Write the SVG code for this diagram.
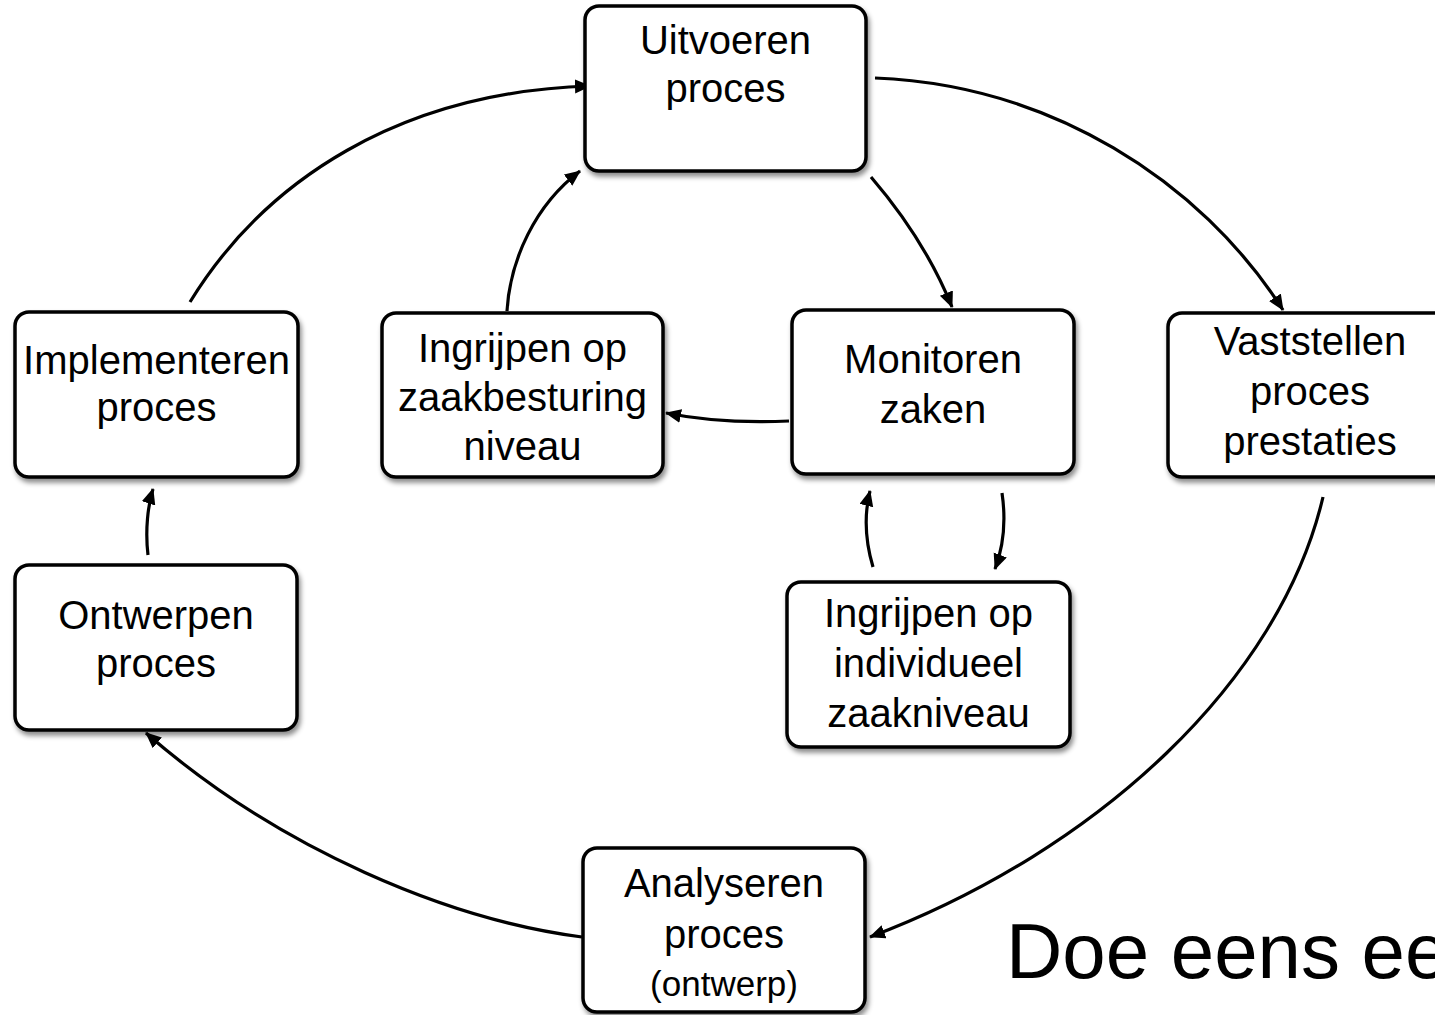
<svg xmlns="http://www.w3.org/2000/svg" width="1435" height="1015" viewBox="0 0 1435 1015">
<style>
.box{fill:#fff;stroke:#000;stroke-width:3.5;filter:url(#sh)}
.t{font-family:"Liberation Sans",Arial,sans-serif;font-size:40px;fill:#000;text-anchor:middle}
.s{font-size:35px}
.big{font-family:"Liberation Sans",Arial,sans-serif;font-size:78px;fill:#000}
.c{fill:none;stroke:#000;stroke-width:3.2;marker-end:url(#ah)}
</style>
<defs>
<filter id="sh" x="-10%" y="-10%" width="130%" height="130%">
<feDropShadow dx="2" dy="4" stdDeviation="2.5" flood-color="#000" flood-opacity="0.45"/>
</filter>
<marker id="ah" markerUnits="userSpaceOnUse" markerWidth="18" markerHeight="16" refX="15" refY="7" orient="auto">
<path d="M0,0 L16,7 L0,14 z" fill="#000"/>
</marker>
</defs>
<rect width="1435" height="1015" fill="#fff"/>
<g id="connectors">
<path class="c" d="M875,78 C1050,85 1200,180 1283,310"/>
<path class="c" d="M1323,497 C1280,680 1100,850 870,937"/>
<path class="c" d="M582,937 C450,920 280,850 146,733"/>
<path class="c" d="M148,555 C145,530 148,505 153,489"/>
<path class="c" d="M190,302 C265,180 400,92 590,86"/>
<path class="c" d="M871,177 Q925,240 952,307"/>
<path class="c" d="M789,421 Q720,424 666,413"/>
<path class="c" d="M507,311 C510,260 535,205 580,171"/>
<path class="c" d="M873,567 C865,540 864,515 870,491"/>
<path class="c" d="M1002,493 C1006,520 1004,545 995,569"/>
</g>
<g id="uitvoeren">
<rect class="box" x="585" y="6" width="281" height="165" rx="14"/>
<text class="t" x="725.5" y="54">Uitvoeren</text>
<text class="t" x="725.5" y="102">proces</text>
</g>
<g id="implementeren">
<rect class="box" x="15" y="312" width="283" height="165" rx="14"/>
<text class="t" x="156.5" y="374">Implementeren</text>
<text class="t" x="156.5" y="421">proces</text>
</g>
<g id="ingrijpen-zaakbesturing">
<rect class="box" x="382" y="313" width="281" height="164" rx="14"/>
<text class="t" x="522.5" y="362">Ingrijpen op</text>
<text class="t" x="522.5" y="411">zaakbesturing</text>
<text class="t" x="522.5" y="460">niveau</text>
</g>
<g id="monitoren">
<rect class="box" x="792" y="310" width="282" height="164" rx="14"/>
<text class="t" x="933" y="373">Monitoren</text>
<text class="t" x="933" y="423">zaken</text>
</g>
<g id="vaststellen">
<rect class="box" x="1168" y="313" width="284" height="164" rx="14"/>
<text class="t" x="1310" y="355">Vaststellen</text>
<text class="t" x="1310" y="405">proces</text>
<text class="t" x="1310" y="455">prestaties</text>
</g>
<g id="ontwerpen">
<rect class="box" x="15" y="565" width="282" height="165" rx="14"/>
<text class="t" x="156" y="629">Ontwerpen</text>
<text class="t" x="156" y="677">proces</text>
</g>
<g id="ingrijpen-individueel">
<rect class="box" x="787" y="582" width="283" height="165" rx="14"/>
<text class="t" x="928.5" y="627">Ingrijpen op</text>
<text class="t" x="928.5" y="677">individueel</text>
<text class="t" x="928.5" y="727">zaakniveau</text>
</g>
<g id="analyseren">
<rect class="box" x="583" y="848" width="282" height="164" rx="14"/>
<text class="t" x="724" y="897">Analyseren</text>
<text class="t" x="724" y="948">proces</text>
<text class="t s" x="724" y="996">(ontwerp)</text>
</g>
<text class="big" x="1006" y="978">Doe eens ee</text>
</svg>
